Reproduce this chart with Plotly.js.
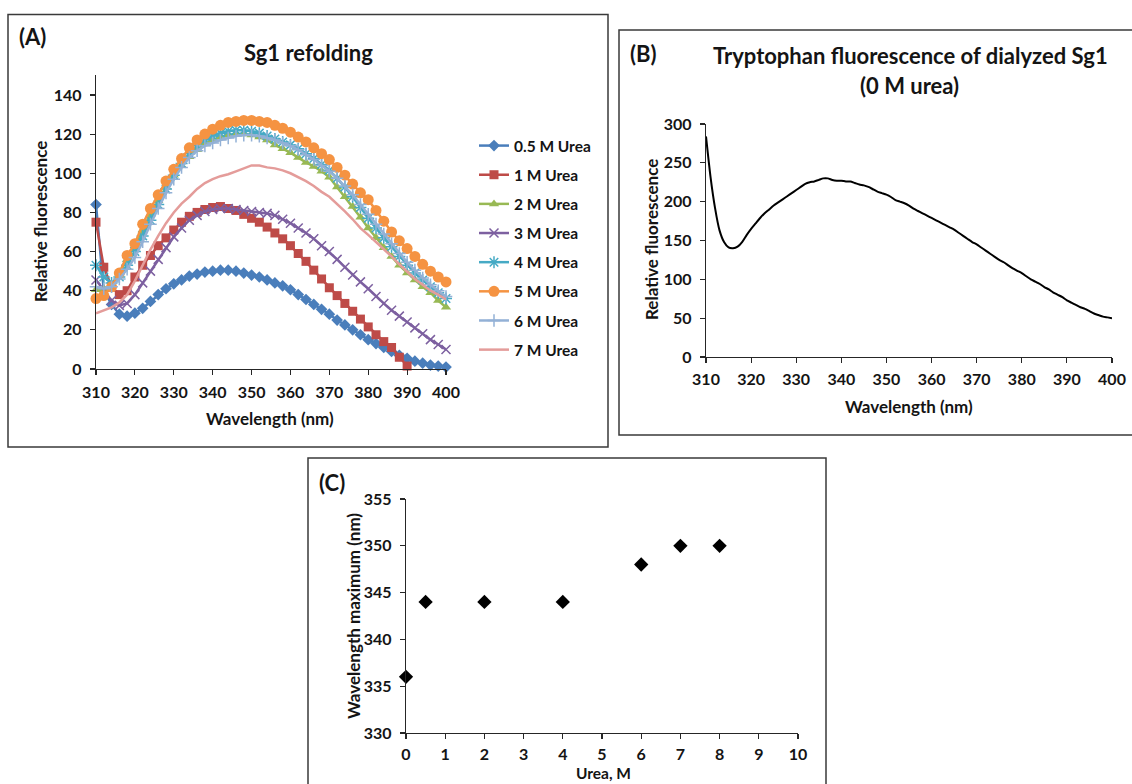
<!DOCTYPE html>
<html>
<head>
<meta charset="utf-8">
<script src="https://cdn.plot.ly/plotly-3.0.1.min.js"></script>
<style>html,body{margin:0;padding:0;background:#fff;}#chart{width:1132px;height:784px;}</style>
</head>
<body>
<div id="chart"></div>
<script>
// ---------- Panel A: Sg1 refolding ----------
var wavelengthA = [310,312,314,316,318,320,322,324,326,328,330,332,334,336,338,340,342,344,346,348,350,352,354,356,358,360,362,364,366,368,370,372,374,376,378,380,382,384,386,388,390,392,394,396,398,400];
var wavelengthA1M = [310,312,314,316,318,320,322,324,326,328,330,332,334,336,338,340,342,344,346,348,350,352,354,356,358,360,362,364,366,368,370,372,374,376,378,380,382,384,386,388,390];

var urea05 = [84,40,33,28,27,28.5,31,34.5,38,41,43.5,45.5,47.5,48.5,49.5,50,50.5,50.5,50,49,48,47,45.5,44,42.5,40.5,38,35.5,33,30.5,28,25,22.5,20,17.5,15,13,11,9,7,5.5,4,3,2,1.5,1];
var urea1 = [75,52,42,38,40,47,53,58,63,67,71,75,78,80,81.5,82.5,83,82,81,79,77,75,72.5,69.5,66.5,63,59,55,50.5,46,41.5,37.5,33.5,29.5,25.5,21.5,17.5,14,11,6,1.5];
var urea2 = [40.5,41,43,49,56,63,71,79,86,93,99,104,108.5,112,115,117,118.5,119.5,120,120,119.5,118.5,117,114.5,112.5,110.5,108,105.5,103.5,101,98,93,88,83,77.5,72,67,62,57.5,53,49,45.5,42,39,35,31.5];
var urea3 = [45.5,40,35,32.5,33.5,38,44,50,56,62,67.5,72,76,78.5,80.5,81.5,82,82,81.5,81,80.5,80,79.5,78.5,76.5,74.5,72,69.5,66.5,63,60,56,52,48,44.5,41,37,33.5,30,27,24,21,18,15,12.5,10];
var urea4 = [53,47,44,47,53,60,68,76,84,92,99,105,110,114,117,119,120.5,121.5,122,122,121.5,120.5,119,117.5,116,114.5,112.5,110,107.5,104.5,101.5,97.5,93,88,82.5,77,72,67,62.5,57.5,53,49,45.5,42,39,36];
var urea5 = [36,37.5,42,49,58,64,74,82,89,96,102,107.5,113,117,120,122.5,124.5,126,126.5,127,127,126.5,126,124.5,123,121,118.5,116,113,110,107,103,99,94.5,90,86.5,81,75.5,70,65.5,61.5,57.5,53.5,50,47,44.5];
var urea6 = [42,41,42,46,51,57,65,74,82,90,97,103,108,111.5,114,115.5,117,118,119,119.5,119.5,119,118,117,115.5,114,112,109.5,107,104,101,97.5,93.5,89,84,79,74,69,64,59,54.5,50.5,46.5,43,40,37];
var urea7 = [28.5,30,31.5,34,38,45,53,61,68,74.5,80,84.5,88,92,95,97,98.5,99.5,101,102.5,104,104,103,102.5,101.5,100,98,96,93.5,90.5,88,84.5,80.5,76.5,72,68.5,65,61,57.5,53.5,49.5,46,43,40,38,35.5];

var seriesNamesA = ['0.5 M Urea','1 M Urea','2 M Urea','3 M Urea','4 M Urea','5 M Urea','6 M Urea','7 M Urea'];

// ---------- Panel B: dialyzed Sg1, 0 M urea ----------
var wavelengthB = [];
for (var w = 310; w <= 400; w++) wavelengthB.push(w);
var fluorB = [284,232,192,163,148,141,140,142,148,157,165,172,179,185,190,195,199,203,207,211,215,219,223,225,226,228,230,230,228,227,227,226,226,224,222,221,219,216,213,211,209,206,202,200,198,195,191,188,185,182,179,176,173,170,167,164,160,156,152,148,145,141,137,133,129,125,122,118,114,111,108,104,100,97,94,90,87,83,80,77,73,70,67,64,62,59,56,54,52,51,50];

// ---------- Panel C: wavelength maximum vs urea ----------
var ureaC = [0,0.5,2,4,6,7,8];
var lambdaMaxC = [336,344,344,344,348,350,350];

// ---------- geometry helpers (pixel -> paper) ----------
var W = 1132, H = 784;
function px(x){ return x / W; }
function py(y){ return 1 - y / H; }

var FONT = 'Lato, "Open Sans", sans-serif';
var TXT = '#141414';

var colorsA = ['#4A7EBB','#BE4B48','#98B954','#7D60A0','#46AAC5','#F59342','#93B1D6','#E49C9A'];
var symbolsA = ['diamond','square','triangle-up','x-thin-open','asterisk-open','circle','cross-thin-open',null];
var sizesA = [9,9,9,9,10,11,9,0];
var yA = [urea05,urea1,urea2,urea3,urea4,urea5,urea6,urea7];

var traces = [];
for (var i = 0; i < yA.length; i++) {
  var t = {
    x: (i === 1 ? wavelengthA1M : wavelengthA),
    y: yA[i],
    name: seriesNamesA[i],
    type: 'scatter',
    xaxis: 'x', yaxis: 'y',
    legendgroup: 'g' + i,
    line: {color: colorsA[i], width: 2.5},
    cliponaxis: false,
    hoverinfo: 'x+y+name'
  };
  if (symbolsA[i]) {
    t.mode = 'lines+markers';
    var open = symbolsA[i].indexOf('open') >= 0;
    t.marker = {symbol: symbolsA[i], size: sizesA[i], color: colorsA[i],
                line: {color: colorsA[i], width: open ? 1.5 : 0}};
  } else {
    t.mode = 'lines';
  }
  traces.push(t);
}

traces.push({
  x: wavelengthB, y: fluorB, type: 'scatter', mode: 'lines',
  xaxis: 'x2', yaxis: 'y2', showlegend: false,
  line: {color: '#000', width: 2, shape: 'spline', smoothing: 0.6},
  name: '0 M urea'
});

traces.push({
  x: ureaC, y: lambdaMaxC, type: 'scatter', mode: 'markers',
  xaxis: 'x3', yaxis: 'y3', showlegend: false, cliponaxis: false,
  marker: {symbol: 'diamond', size: 11, color: '#000'},
  name: 'Wavelength maximum'
});

function axisBase(extra) {
  var a = {
    showgrid: false, zeroline: false, showline: true,
    linecolor: '#262626', linewidth: 1.2,
    ticks: 'outside', ticklen: 5, tickwidth: 1.2, tickcolor: '#262626',
    tickfont: {family: FONT, size: 16, color: TXT, weight: 'bold'},
    fixedrange: true, automargin: false
  };
  for (var k in extra) a[k] = extra[k];
  return a;
}

var layout = {
  width: W, height: H,
  margin: {l: 0, r: 0, t: 0, b: 0, pad: 0},
  paper_bgcolor: '#fff', plot_bgcolor: 'rgba(0,0,0,0)',
  font: {family: FONT, size: 16, color: TXT, weight: 'bold'},
  showlegend: true,
  legend: {
    x: px(474), y: py(129), xanchor: 'left', yanchor: 'top',
    font: {family: FONT, size: 15.5, color: TXT, weight: 'bold'},
    tracegroupgap: 6, bgcolor: 'rgba(0,0,0,0)', borderwidth: 0,
    itemwidth: 30
  },
  xaxis: axisBase({domain: [px(96), px(446)], range: [310, 400], dtick: 10, tick0: 310, anchor: 'y', ticklabelstandoff: 4}),
  yaxis: axisBase({domain: [py(369), py(75.4)], range: [0, 150], dtick: 20, tick0: 0, anchor: 'x', ticklabelstandoff: 5}),
  xaxis2: axisBase({domain: [px(706), px(1112)], range: [310, 400], dtick: 10, tick0: 310, anchor: 'y2', ticklabelstandoff: 3}),
  yaxis2: axisBase({domain: [py(357), py(124)], range: [0, 300], dtick: 50, tick0: 0, anchor: 'x2', ticklabelstandoff: 5}),
  xaxis3: axisBase({domain: [px(406), px(798)], range: [0, 10], dtick: 1, tick0: 0, anchor: 'y3', ticklabelstandoff: 2}),
  yaxis3: axisBase({domain: [py(733), py(499)], range: [330, 355], dtick: 5, tick0: 330, anchor: 'x3', ticklabelstandoff: 5}),
  shapes: [
    {type: 'rect', xref: 'paper', yref: 'paper', x0: px(8), x1: px(608), y0: py(447), y1: py(14.5),
     line: {color: '#3a3a3a', width: 1.5}, fillcolor: 'rgba(0,0,0,0)', layer: 'below'},
    {type: 'rect', xref: 'paper', yref: 'paper', x0: px(619), x1: px(1140), y0: py(435), y1: py(30),
     line: {color: '#3a3a3a', width: 1.5}, fillcolor: 'rgba(0,0,0,0)', layer: 'below'},
    {type: 'rect', xref: 'paper', yref: 'paper', x0: px(308), x1: px(826), y0: py(800), y1: py(458),
     line: {color: '#3a3a3a', width: 1.5}, fillcolor: 'rgba(0,0,0,0)', layer: 'below'}
  ],
  annotations: []
};

function ann(text, x, y, size, opts) {
  var a = {text: text, xref: 'paper', yref: 'paper', x: px(x), y: py(y),
           xanchor: 'center', yanchor: 'middle', showarrow: false,
           font: {family: FONT, size: size, color: TXT, weight: 'bold'}};
  if (opts) for (var k in opts) a[k] = opts[k];
  return a;
}

layout.annotations.push(ann('(A)', 17, 36, 22, {xanchor: 'left'}));
layout.annotations.push(ann('Sg1 refolding', 308, 52, 22));
layout.annotations.push(ann('Relative fluorescence', 40, 222, 17, {textangle: -90}));
layout.annotations.push(ann('Wavelength (nm)', 270, 418, 17));

layout.annotations.push(ann('(B)', 628, 54, 22, {xanchor: 'left'}));
layout.annotations.push(ann('Tryptophan fluorescence of dialyzed Sg1', 910, 55, 22));
layout.annotations.push(ann('(0 M urea)', 909, 85, 22));
layout.annotations.push(ann('Relative fluorescence', 651, 240, 17, {textangle: -90}));
layout.annotations.push(ann('Wavelength (nm)', 909, 406, 17));

layout.annotations.push(ann('(C)', 317, 482, 22, {xanchor: 'left'}));
layout.annotations.push(ann('Wavelength maximum (nm)', 353, 616, 17, {textangle: -90}));
layout.annotations.push(ann('Urea, M', 603, 773, 15.5));

Plotly.newPlot('chart', traces, layout, {displayModeBar: false, staticPlot: true});
</script>
</body>
</html>
